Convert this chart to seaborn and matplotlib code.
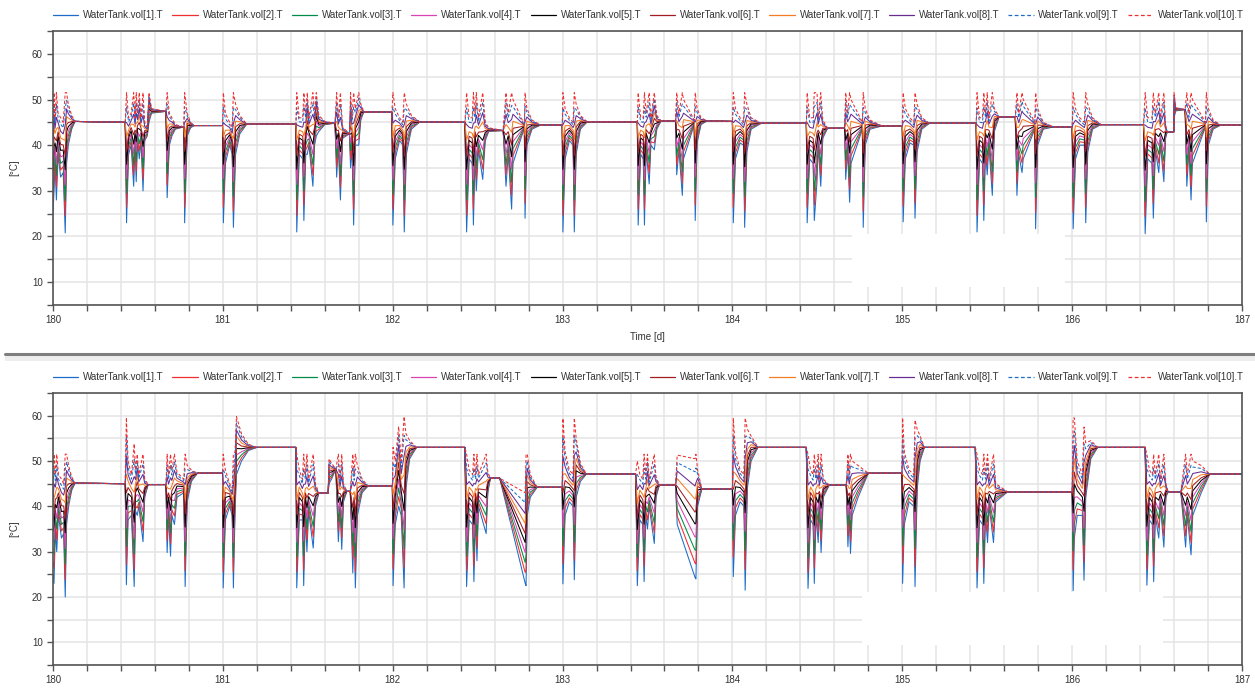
import numpy as np
import pandas as pd
import matplotlib
matplotlib.use("Agg")
import matplotlib.pyplot as plt
import seaborn as sns
from matplotlib.lines import Line2D
from matplotlib.patches import Rectangle

# series of the stratified tank (vol[1] = bottom layer ... vol[10] = top layer)
series_names = ["WaterTank.vol[1].T", "WaterTank.vol[2].T", "WaterTank.vol[3].T",
                "WaterTank.vol[4].T", "WaterTank.vol[5].T", "WaterTank.vol[6].T",
                "WaterTank.vol[7].T", "WaterTank.vol[8].T", "WaterTank.vol[9].T",
                "WaterTank.vol[10].T"]
series_colors = ["#1c6cc8", "#ee2e2f", "#008c48", "#d943b4", "#000000",
                 "#a21d21", "#f47d23", "#662c91", "#1c6cc8", "#ee2e2f"]
series_dashed = [False, False, False, False, False, False, False, False, True, True]
# where each layer sits inside the temperature band (0 = coldest, 1 = hottest)
layer_frac = [0.0, 0.12, 0.23, 0.34, 0.45, 0.55, 0.66, 0.77, 0.89, 1.0]

x_tick_labels = ["180", "181", "182", "183", "184", "185", "186", "187"]
y_tick_labels = ["10", "20", "30", "40", "50", "60"]

# (time [d], band low [°C], band high [°C])
top_knots = [
    (180.000, 25.0, 46.0), (180.006, 30.0, 51.5), (180.012, 36.0, 46.0),
    (180.020, 28.0, 51.5), (180.030, 38.0, 47.0), (180.045, 33.0, 46.0),
    (180.060, 34.0, 45.0), (180.072, 20.8, 51.5), (180.080, 36.0, 51.5),
    (180.090, 40.0, 49.0), (180.110, 43.5, 46.5), (180.130, 45.2, 45.2),
    (180.425, 45.0, 45.0),
    (180.433, 23.0, 51.5), (180.445, 38.0, 46.0), (180.460, 40.0, 47.0),
    (180.475, 31.0, 51.5), (180.483, 40.0, 46.0), (180.490, 32.0, 51.5),
    (180.498, 41.0, 47.0), (180.508, 37.0, 51.5), (180.518, 41.0, 46.0),
    (180.530, 30.0, 51.5), (180.540, 41.0, 45.0), (180.555, 42.0, 44.0),
    (180.565, 45.0, 51.5), (180.580, 47.0, 48.0), (180.665, 47.4, 47.4),
    (180.672, 28.5, 51.5), (180.685, 40.0, 47.0), (180.700, 42.0, 46.0),
    (180.720, 43.5, 44.5), (180.770, 44.0, 44.0), (180.775, 23.0, 51.5),
    (180.790, 42.0, 47.0), (180.810, 43.8, 45.0), (180.830, 44.3, 44.3),
    (180.998, 44.3, 44.3),
    (181.003, 23.0, 51.5), (181.015, 36.0, 47.0), (181.040, 40.0, 45.0),
    (181.055, 38.0, 44.0), (181.062, 22.0, 51.5), (181.075, 38.0, 49.0),
    (181.100, 42.5, 46.5), (181.140, 44.6, 44.6), (181.430, 44.6, 44.6),
    (181.435, 21.0, 51.5), (181.450, 38.0, 46.0), (181.470, 37.0, 46.0),
    (181.477, 23.5, 51.5), (181.488, 38.0, 47.0), (181.497, 38.0, 51.5),
    (181.507, 40.0, 46.0), (181.530, 31.0, 51.5), (181.540, 40.0, 47.0),
    (181.550, 42.0, 51.5), (181.565, 43.0, 46.5), (181.600, 44.5, 45.2),
    (181.660, 44.8, 44.8), (181.670, 33.0, 51.5), (181.680, 40.0, 46.0),
    (181.692, 28.0, 51.5), (181.705, 41.5, 44.0), (181.745, 42.5, 42.5),
    (181.752, 35.0, 51.5), (181.760, 40.0, 46.0), (181.770, 22.5, 51.5),
    (181.780, 40.0, 48.0), (181.800, 40.0, 51.5), (181.812, 45.5, 49.0),
    (181.830, 47.3, 47.3), (181.995, 47.2, 47.2),
    (182.001, 22.5, 51.5), (182.015, 37.0, 48.0), (182.040, 41.0, 46.0),
    (182.060, 40.0, 45.0), (182.068, 21.0, 51.5), (182.080, 38.0, 49.0),
    (182.110, 43.5, 46.5), (182.160, 45.1, 45.1), (182.425, 45.0, 45.0),
    (182.435, 21.0, 51.5), (182.450, 37.0, 46.0), (182.468, 36.0, 46.0),
    (182.475, 22.5, 51.5), (182.485, 38.0, 47.0), (182.492, 30.0, 51.5),
    (182.505, 39.0, 46.0), (182.530, 32.5, 51.5), (182.545, 41.0, 45.0),
    (182.565, 43.0, 43.8), (182.650, 43.2, 43.2), (182.667, 31.0, 51.5),
    (182.680, 38.0, 47.0), (182.700, 26.0, 51.5), (182.708, 36.0, 50.0),
    (182.775, 43.8, 44.5), (182.779, 24.0, 51.5), (182.790, 40.0, 48.0),
    (182.820, 43.5, 45.5), (182.870, 44.4, 44.4), (182.998, 44.4, 44.4),
    (183.002, 21.0, 51.5), (183.015, 37.0, 48.0), (183.040, 41.0, 46.0),
    (183.062, 40.0, 45.0), (183.069, 21.0, 51.5), (183.080, 38.0, 49.0),
    (183.105, 43.5, 46.5), (183.145, 45.1, 45.1), (183.440, 45.1, 45.1),
    (183.445, 22.5, 51.5), (183.460, 38.0, 46.0), (183.475, 37.0, 46.0),
    (183.482, 22.5, 51.5), (183.492, 39.0, 47.0), (183.510, 31.5, 51.5),
    (183.520, 40.0, 46.0), (183.540, 39.0, 51.5), (183.555, 43.5, 46.5),
    (183.580, 45.3, 45.3), (183.665, 45.3, 45.3), (183.672, 33.5, 51.5),
    (183.685, 39.0, 47.0), (183.705, 29.0, 51.5), (183.712, 37.0, 50.0),
    (183.775, 44.5, 45.5), (183.781, 23.5, 51.5), (183.792, 40.5, 48.0),
    (183.815, 44.5, 46.0), (183.850, 45.3, 45.3), (184.000, 45.2, 45.2),
    (184.005, 23.0, 51.5), (184.018, 37.0, 48.0), (184.045, 40.5, 46.0),
    (184.065, 40.0, 45.0), (184.072, 22.0, 51.5), (184.085, 38.5, 49.0),
    (184.110, 43.5, 46.0), (184.170, 44.8, 44.8), (184.435, 44.8, 44.8),
    (184.440, 23.0, 51.5), (184.455, 37.0, 46.0), (184.475, 36.0, 46.0),
    (184.482, 23.5, 51.5), (184.498, 32.0, 51.5), (184.505, 40.0, 46.0),
    (184.520, 31.0, 51.5), (184.532, 41.5, 45.5), (184.560, 43.7, 43.7),
    (184.660, 43.7, 43.7), (184.667, 32.5, 51.5), (184.678, 39.0, 47.0),
    (184.690, 27.5, 51.5), (184.698, 36.0, 50.0), (184.765, 43.5, 45.0),
    (184.770, 22.0, 51.5), (184.782, 40.0, 48.0), (184.810, 43.5, 45.5),
    (184.880, 44.2, 44.2), (185.000, 44.2, 44.2),
    (185.005, 23.2, 51.5), (185.018, 37.0, 48.0), (185.045, 40.5, 46.0),
    (185.068, 40.0, 45.0), (185.075, 24.0, 51.5), (185.087, 38.5, 49.0),
    (185.115, 43.5, 46.0), (185.160, 44.8, 44.8), (185.435, 44.8, 44.8),
    (185.440, 21.0, 51.5), (185.455, 37.0, 46.0), (185.472, 36.0, 46.0),
    (185.480, 23.5, 51.5), (185.490, 39.0, 47.0), (185.500, 33.5, 51.5),
    (185.510, 40.0, 46.0), (185.530, 29.0, 51.5), (185.542, 43.0, 48.0),
    (185.570, 46.2, 46.2), (185.665, 46.2, 46.2), (185.675, 29.0, 51.5),
    (185.686, 38.0, 47.0), (185.705, 34.0, 51.5), (185.712, 37.0, 50.0),
    (185.780, 43.5, 45.0), (185.785, 21.7, 51.5), (185.797, 40.0, 48.0),
    (185.830, 43.5, 45.0), (185.890, 44.0, 44.0), (186.000, 44.0, 44.0),
    (186.006, 21.7, 51.5), (186.020, 37.0, 48.0), (186.045, 40.0, 46.0),
    (186.072, 40.0, 45.0), (186.080, 23.0, 51.5), (186.092, 38.5, 49.0),
    (186.120, 43.5, 46.0), (186.170, 44.5, 44.5), (186.420, 44.5, 44.5),
    (186.430, 20.6, 51.5), (186.445, 37.0, 46.0), (186.470, 36.0, 46.0),
    (186.478, 24.0, 51.5), (186.490, 39.0, 47.0), (186.510, 34.0, 51.5),
    (186.520, 40.0, 46.0), (186.540, 32.0, 51.5), (186.550, 41.5, 44.5),
    (186.560, 42.9, 42.9), (186.598, 42.9, 42.9), (186.600, 46.0, 51.5),
    (186.610, 47.5, 48.2), (186.665, 47.8, 47.8), (186.675, 31.0, 51.5),
    (186.688, 39.0, 47.0), (186.700, 28.0, 51.5), (186.708, 36.0, 50.0),
    (186.785, 44.0, 45.0), (186.790, 23.2, 51.5), (186.802, 40.0, 48.0),
    (186.830, 43.5, 45.5), (186.875, 44.4, 44.4), (187.000, 44.4, 44.4),
]

# (time [d], band low [°C], band high [°C])
bottom_knots = [
    (180.000, 25.0, 46.0), (180.006, 23.0, 51.5), (180.014, 35.0, 47.0),
    (180.022, 30.0, 51.5), (180.032, 38.0, 47.0), (180.050, 33.0, 46.0),
    (180.063, 34.0, 45.0), (180.072, 20.0, 51.5), (180.080, 36.0, 51.5),
    (180.092, 40.0, 49.0), (180.110, 43.5, 46.5), (180.130, 45.1, 45.1),
    (180.425, 45.0, 45.0),
    (180.432, 22.7, 59.6), (180.442, 37.0, 50.0), (180.462, 38.0, 47.0),
    (180.478, 22.3, 53.8), (180.486, 39.0, 48.0), (180.496, 38.0, 51.5),
    (180.505, 40.0, 47.0), (180.530, 32.2, 51.5), (180.540, 42.0, 46.0),
    (180.560, 44.8, 44.8), (180.665, 44.8, 44.8), (180.672, 29.8, 51.5),
    (180.680, 38.0, 47.0), (180.692, 29.0, 51.5), (180.700, 38.0, 48.0),
    (180.715, 36.0, 51.5), (180.730, 42.0, 47.5), (180.770, 43.0, 46.0),
    (180.778, 22.3, 51.5), (180.790, 41.0, 49.0), (180.815, 45.5, 48.0),
    (180.850, 47.3, 47.3), (180.998, 47.3, 47.3),
    (181.002, 22.0, 51.5), (181.015, 37.0, 48.0), (181.040, 40.0, 45.0),
    (181.055, 38.0, 44.0), (181.062, 22.0, 51.5), (181.072, 39.0, 52.0),
    (181.080, 47.0, 59.8), (181.110, 50.0, 56.0), (181.150, 52.3, 53.7),
    (181.200, 53.0, 53.0), (181.430, 53.0, 53.0),
    (181.435, 22.0, 51.5), (181.450, 37.0, 48.0), (181.468, 37.0, 46.0),
    (181.476, 22.5, 51.5), (181.486, 38.0, 47.0), (181.495, 30.0, 51.5),
    (181.505, 39.0, 46.0), (181.532, 30.8, 51.5), (181.545, 40.0, 45.0),
    (181.565, 42.9, 42.9), (181.620, 42.9, 42.9), (181.625, 45.0, 50.5),
    (181.640, 46.0, 49.5), (181.665, 48.2, 48.2), (181.680, 32.2, 51.5),
    (181.690, 39.0, 46.0), (181.700, 30.5, 51.5), (181.710, 41.0, 45.0),
    (181.730, 43.3, 43.3), (181.750, 43.3, 43.3), (181.765, 25.3, 51.5),
    (181.773, 36.0, 47.0), (181.780, 22.0, 51.5), (181.792, 38.0, 49.0),
    (181.820, 43.0, 46.0), (181.855, 44.5, 44.5), (181.998, 44.5, 44.5),
    (182.002, 22.5, 53.0), (182.015, 36.0, 50.0), (182.035, 40.0, 57.6),
    (182.050, 38.0, 50.0), (182.067, 22.0, 59.8), (182.078, 44.0, 56.0),
    (182.100, 50.5, 54.5), (182.140, 53.0, 53.0), (182.425, 53.0, 53.0),
    (182.435, 22.3, 51.5), (182.450, 37.0, 48.0), (182.470, 36.0, 47.0),
    (182.478, 23.4, 51.5), (182.488, 38.0, 47.0), (182.496, 28.0, 51.5),
    (182.505, 40.0, 47.0), (182.550, 34.0, 51.5), (182.560, 43.0, 47.5),
    (182.575, 46.2, 46.2), (182.630, 46.2, 46.2), (182.780, 23.0, 43.0),
    (182.785, 22.5, 51.5), (182.792, 38.0, 51.5), (182.810, 42.0, 47.0),
    (182.850, 44.2, 44.2), (182.998, 44.2, 44.2),
    (183.002, 22.9, 59.4), (183.015, 38.0, 52.0), (183.040, 41.0, 48.0),
    (183.062, 40.0, 47.0), (183.069, 23.8, 59.5), (183.080, 42.0, 55.0),
    (183.105, 45.5, 49.5), (183.140, 47.1, 47.1), (183.430, 47.1, 47.1),
    (183.440, 22.5, 50.0), (183.455, 37.0, 47.0), (183.472, 36.0, 46.0),
    (183.480, 23.4, 51.5), (183.490, 38.0, 47.0), (183.500, 35.0, 51.5),
    (183.510, 40.0, 46.0), (183.540, 31.8, 51.5), (183.550, 42.0, 46.5),
    (183.570, 44.7, 44.7), (183.665, 44.7, 44.7), (183.675, 36.0, 51.3),
    (183.780, 24.3, 50.5), (183.785, 24.0, 51.5), (183.795, 40.0, 48.0),
    (183.820, 43.8, 43.8), (184.000, 43.8, 43.8),
    (184.005, 24.5, 59.5), (184.018, 38.0, 52.0), (184.045, 41.0, 48.0),
    (184.068, 40.0, 47.0), (184.075, 21.5, 59.5), (184.088, 44.0, 57.0),
    (184.110, 50.0, 55.5), (184.150, 53.0, 53.0), (184.435, 53.0, 53.0),
    (184.445, 21.9, 51.5), (184.460, 37.0, 48.0), (184.475, 36.0, 47.0),
    (184.482, 23.0, 51.5), (184.492, 38.0, 47.0), (184.505, 32.0, 51.5),
    (184.512, 40.0, 46.0), (184.522, 29.8, 51.5), (184.535, 42.0, 46.0),
    (184.570, 44.7, 44.7), (184.670, 44.7, 44.7), (184.680, 31.1, 51.5),
    (184.688, 38.0, 47.0), (184.695, 29.6, 51.5), (184.705, 38.0, 50.0),
    (184.740, 42.0, 49.0), (184.800, 47.3, 47.3), (184.998, 47.3, 47.3),
    (185.002, 23.0, 59.5), (185.012, 36.0, 52.0), (185.040, 41.0, 48.0),
    (185.068, 40.0, 47.0), (185.075, 22.3, 59.0), (185.088, 44.0, 57.0),
    (185.105, 50.0, 55.5), (185.130, 53.0, 53.0), (185.430, 53.0, 53.0),
    (185.440, 22.0, 51.5), (185.455, 37.0, 48.0), (185.472, 36.0, 47.0),
    (185.480, 23.0, 51.5), (185.490, 38.0, 47.0), (185.502, 32.0, 51.5),
    (185.512, 40.0, 46.0), (185.537, 32.0, 51.5), (185.550, 41.0, 45.0),
    (185.620, 43.2, 43.2), (186.000, 43.2, 43.2),
    (186.006, 21.4, 59.5), (186.013, 33.0, 59.5), (186.030, 38.0, 50.0),
    (186.060, 38.0, 47.0), (186.070, 23.7, 57.5), (186.080, 42.0, 54.0),
    (186.110, 50.5, 54.5), (186.150, 53.0, 53.0), (186.430, 53.0, 53.0),
    (186.440, 22.6, 51.5), (186.455, 37.0, 48.0), (186.472, 36.0, 47.0),
    (186.480, 23.4, 51.5), (186.490, 38.0, 47.0), (186.510, 33.0, 51.5),
    (186.520, 40.0, 46.0), (186.540, 31.0, 51.5), (186.552, 42.0, 45.0),
    (186.565, 43.2, 43.2), (186.640, 43.2, 43.2), (186.668, 31.0, 51.5),
    (186.678, 38.0, 47.0), (186.700, 29.3, 51.5), (186.710, 38.0, 50.0),
    (186.760, 43.0, 49.0), (186.810, 47.1, 47.1), (187.000, 47.1, 47.1),
]


def to_long(knots):
    t, lo, hi = (np.array(v) for v in zip(*knots))
    frames = []
    for name, frac in zip(series_names, layer_frac):
        frames.append(pd.DataFrame({"time": t, "temp": lo + frac * (hi - lo),
                                    "series": name}))
    return pd.concat(frames, ignore_index=True)


df_top = to_long(top_knots)
df_bottom = to_long(bottom_knots)

sns.set_theme(style="whitegrid")
plt.rcParams["font.family"] = ["Liberation Sans", "DejaVu Sans"]

dash_map = {n: ((3, 2) if d else "") for n, d in zip(series_names, series_dashed)}
text_col = "#333333"
frame_col = "#555555"
fs = 7.0

fig = plt.figure(figsize=(12.55, 6.94), dpi=100)
ax_top = fig.add_axes([0.04223, 0.56052, 0.94741, 0.39481])
ax_bot = fig.add_axes([0.04223, 0.04179, 0.94741, 0.39193])

for ax, df, blank in [(ax_top, df_top, (184.702, 8.9, 1.256, 11.6)),
                      (ax_bot, df_bottom, (184.761, 9.5, 1.776, 11.7))]:
    # blanked-out patch of the grid seen in the original screenshot
    ax.add_patch(Rectangle(blank[:2], blank[2], blank[3], facecolor="white",
                           edgecolor="none", zorder=1))
    sns.lineplot(data=df, x="time", y="temp", hue="series", style="series",
                 hue_order=series_names, style_order=series_names,
                 palette=series_colors, dashes=dash_map, estimator=None,
                 sort=False, linewidth=0.75, legend=False, ax=ax, zorder=2)
    ax.set_xlim(180, 187)
    ax.set_ylim(5, 65)
    ax.set_xticks(np.arange(180, 188), labels=x_tick_labels)
    ax.set_xticks(np.arange(180, 187.01, 0.2), minor=True)
    ax.set_yticks([10, 20, 30, 40, 50, 60], labels=y_tick_labels)
    ax.set_yticks(np.arange(5, 65.1, 5), minor=True)
    ax.grid(which="both", color="#e4e4e4", linewidth=1.1)
    ax.tick_params(which="both", bottom=True, left=True, direction="out",
                   length=4.5, width=1, color=frame_col, labelsize=fs,
                   labelcolor=text_col, pad=3)
    for s in ax.spines.values():
        s.set_color(frame_col)
        s.set_linewidth(1.2)
    ax.set_xlabel("")
    ax.set_ylabel("[°C]", fontsize=fs, color=text_col)
    ax.yaxis.set_label_coords(-0.0286, 0.5)

    handles = [Line2D([], [], color=c, lw=0.9, linestyle=(0, (3, 2)) if d else "-")
               for c, d in zip(series_colors, series_dashed)]
    ax.legend(handles, series_names, loc="center left", bbox_to_anchor=(0, 1.058),
              ncol=10, frameon=False, fontsize=fs, handlelength=2.6,
              handletextpad=0.5, columnspacing=0.9, borderpad=0, borderaxespad=0,
              labelcolor=text_col)

ax_top.set_xlabel("Time [d]", fontsize=fs, color=text_col)
ax_top.xaxis.set_label_coords(0.5, -0.0985)

# splitter between the two plot windows
fig.add_artist(Rectangle((0.004, 1 - 361 / 694), 0.996, 5 / 694,
                         transform=fig.transFigure, facecolor="#eeeeee",
                         edgecolor="none"))
fig.add_artist(Line2D([0.004, 1.0], [1 - 354 / 694] * 2, transform=fig.transFigure,
                      color="#7f7f7f", linewidth=2.2))

fig.savefig("out.png", dpi=100)
